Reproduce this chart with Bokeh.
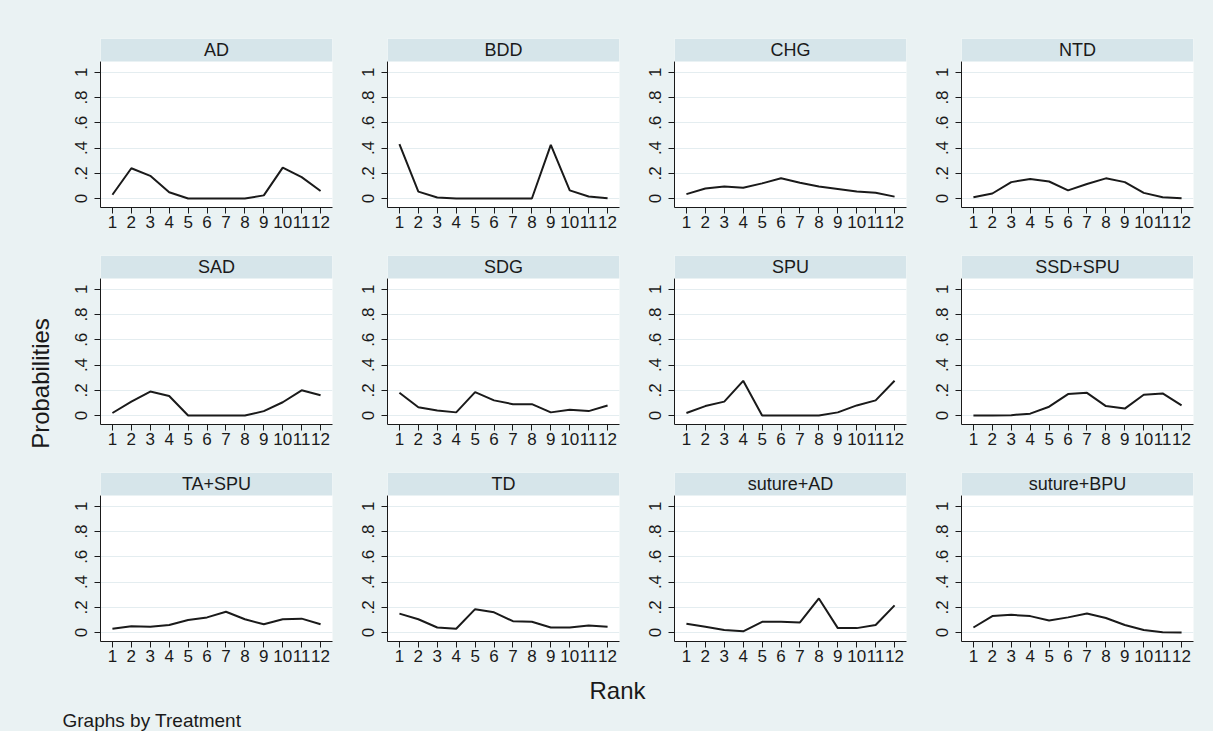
from math import pi
from bokeh.plotting import figure
from bokeh.layouts import row, column
from bokeh.models import FixedTicker, BoxAnnotation, Label
from bokeh.embed import file_html
from bokeh.resources import INLINE
from bokeh.core.properties import value

# ---------------- data ----------------
ranks = [1, 2, 3, 4, 5, 6, 7, 8, 9, 10, 11, 12]
treatments = ["AD", "BDD", "CHG", "NTD", "SAD", "SDG", "SPU", "SSD+SPU",
              "TA+SPU", "TD", "suture+AD", "suture+BPU"]
y_ticks = [0, 0.2, 0.4, 0.6, 0.8, 1]
y_tick_labels = ["0", ".2", ".4", ".6", ".8", "1"]

AD = [0.03, 0.24, 0.18, 0.05, 0.0, 0.0, 0.0, 0.0, 0.025, 0.245, 0.17, 0.06]
BDD = [0.43, 0.055, 0.008, 0.0, 0.0, 0.0, 0.0, 0.0, 0.425, 0.065, 0.016, 0.002]
CHG = [0.035, 0.08, 0.095, 0.085, 0.12, 0.16, 0.125, 0.095, 0.075, 0.055, 0.045, 0.015]
NTD = [0.01, 0.04, 0.13, 0.155, 0.135, 0.065, 0.115, 0.16, 0.13, 0.045, 0.01, 0.002]
SAD = [0.02, 0.11, 0.19, 0.155, 0.0, 0.0, 0.0, 0.0, 0.035, 0.105, 0.2, 0.16]
SDG = [0.18, 0.065, 0.04, 0.025, 0.185, 0.12, 0.09, 0.09, 0.025, 0.045, 0.035, 0.08]
SPU = [0.02, 0.075, 0.11, 0.275, 0.0, 0.0, 0.0, 0.0, 0.025, 0.08, 0.12, 0.275]
SSD_SPU = [0.0, 0.0, 0.003, 0.015, 0.07, 0.17, 0.18, 0.075, 0.055, 0.165, 0.175, 0.08]
TA_SPU = [0.03, 0.05, 0.045, 0.06, 0.1, 0.12, 0.165, 0.105, 0.065, 0.105, 0.11, 0.065]
TD = [0.15, 0.105, 0.04, 0.03, 0.185, 0.16, 0.09, 0.085, 0.04, 0.04, 0.055, 0.045]
suture_AD = [0.07, 0.045, 0.02, 0.01, 0.085, 0.085, 0.08, 0.27, 0.035, 0.035, 0.06, 0.215]
suture_BPU = [0.04, 0.13, 0.14, 0.13, 0.095, 0.12, 0.15, 0.115, 0.06, 0.02, 0.003, 0.0]

series = [AD, BDD, CHG, NTD, SAD, SDG, SPU, SSD_SPU, TA_SPU, TD, suture_AD, suture_BPU]

# ---------------- style ----------------
BG = "#eaf2f3"
STRIP = "#d6e5ea"
INK = "#1a1a1a"
GRID = "#e4edf0"
FONT = "Liberation Sans"
BGSTYLE = {"background-color": BG}

XMIN, XMAX = 0.37, 12.63
YMIN, YPLOT, YMAX = -0.071, 1.085, 1.2675

TOTAL_W, TOTAL_H = 1213, 731
LEFT_W = 57


def panel(name, vals, top_border, right_border):
    p = figure(width=275 + right_border, height=201 + top_border,
               x_range=(XMIN, XMAX), y_range=(YMIN, YMAX),
               min_border_left=43, min_border_right=right_border,
               min_border_top=top_border, min_border_bottom=32,
               output_backend="svg", toolbar_location=None,
               background_fill_color="white", border_fill_color=BG,
               outline_line_color=None)
    p.xgrid.visible = False
    p.ygrid.grid_line_color = GRID
    p.ygrid.grid_line_width = 1

    xa = p.xaxis[0]
    xa.ticker = FixedTicker(ticks=ranks)
    xa.major_tick_out = 6
    xa.major_tick_in = 0
    xa.minor_tick_line_color = None
    xa.major_label_standoff = 2
    xa.major_label_text_font = FONT
    xa.major_label_text_font_size = "17px"
    xa.major_label_text_color = INK
    xa.axis_line_color = INK
    xa.major_tick_line_color = INK

    ya = p.yaxis[0]
    ya.ticker = FixedTicker(ticks=y_ticks)
    ya.major_label_overrides = {t: s for t, s in zip(y_ticks, y_tick_labels)}
    ya.major_label_orientation = "vertical"
    ya.major_tick_out = 6
    ya.major_tick_in = 0
    ya.minor_tick_line_color = None
    ya.major_label_standoff = 7
    ya.major_label_text_font = FONT
    ya.major_label_text_font_size = "17px"
    ya.major_label_text_color = INK
    ya.axis_line_color = INK
    ya.major_tick_line_color = INK
    ya.bounds = (YMIN, YPLOT)

    p.add_layout(BoxAnnotation(bottom=YPLOT, fill_color=STRIP, fill_alpha=1,
                               line_color=None))
    p.add_layout(Label(x=(XMIN + XMAX) / 2, y=(YPLOT + YMAX) / 2, text=name,
                       text_align="center", text_baseline="middle",
                       text_font=FONT, text_font_size="18px", text_color=INK))

    p.line(ranks, vals, line_color=INK, line_width=2)
    return p


panels = []
for i, (name, vals) in enumerate(zip(treatments, series)):
    top = 38 if i < 4 else 16
    right = 20 if i % 4 == 3 else 12
    panels.append(panel(name, vals, top, right))

rows = [row(*panels[r * 4:(r + 1) * 4], styles=BGSTYLE) for r in range(3)]

# left label
left = figure(width=LEFT_W, height=TOTAL_H, x_range=(0, LEFT_W), y_range=(0, TOTAL_H),
              min_border=0, output_backend="svg", toolbar_location=None,
              x_axis_location=None, y_axis_location=None,
              background_fill_color=BG, border_fill_color=BG,
              outline_line_color=None)
left.grid.visible = False
left.text(x=[40], y=[TOTAL_H - 383], text=["Probabilities"], angle=pi / 2,
          text_align="center", text_baseline="middle",
          text_font=value(FONT), text_font_size=value("24px"), text_color=INK)

# bottom labels
BW = TOTAL_W - LEFT_W
BH = TOTAL_H - (239 + 217 + 217)
bottom = figure(width=BW, height=BH, x_range=(0, BW), y_range=(0, BH),
                min_border=0, output_backend="svg", toolbar_location=None,
                x_axis_location=None, y_axis_location=None,
                background_fill_color=BG, border_fill_color=BG,
                outline_line_color=None)
bottom.grid.visible = False
bottom.text(x=[617 - LEFT_W], y=[BH - 17], text=["Rank"], text_align="center",
            text_baseline="middle", text_font=value(FONT),
            text_font_size=value("24px"), text_color=INK)
bottom.text(x=[62 - LEFT_W], y=[BH - 47], text=["Graphs by Treatment"], text_align="left",
            text_baseline="middle", text_font=value(FONT),
            text_font_size=value("19px"), text_color=INK)

layout = row(left, column(*rows, bottom, styles=BGSTYLE), styles=BGSTYLE)

open("out.html", "w").write(file_html(layout, INLINE))
